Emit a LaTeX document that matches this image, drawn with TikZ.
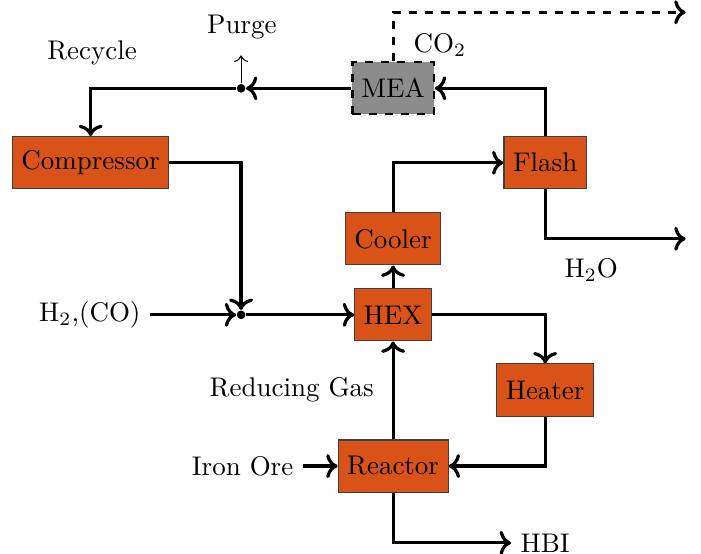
\documentclass[tikz,border=0pt]{standalone}
\usepackage{amsmath}
\usetikzlibrary{calc,arrows.meta}
\definecolor{unitorange}{HTML}{D95319}

\begin{document}
\begin{tikzpicture}[
    unit/.style={draw=black!75, fill=unitorange, minimum height=0.68cm, inner sep=3.33pt},
    flow/.style={very thick, ->},
    junction/.style={circle, fill=black, inner sep=0pt, minimum size=3.2pt}
]
    \useasboundingbox (0,0) rectangle (9.13,-7.21);

    % process units
    \node[unit] (comp) at (1.18,-2.12) {Compressor};
    \node[unit, fill=gray!90, draw=black, thick, dashed] (mea) at (5.12,-1.15) {MEA};
    \node[unit] (flash) at (7.10,-2.12) {Flash};
    \node[unit] (cooler) at (5.12,-3.11) {Cooler};
    \node[unit] (hex) at (5.12,-4.10) {HEX};
    \node[unit] (heater) at (7.10,-5.08) {Heater};
    \node[unit] (reactor) at (5.12,-6.07) {Reactor};

    % junctions and stream ends
    \node[junction] (mix) at (3.14,-4.10) {};
    \node[junction] (split) at (3.14,-1.15) {};
    \coordinate (purgeend) at (3.14,-0.72);
    \coordinate (co2end) at (8.93,-0.16);
    \coordinate (waterend) at (8.93,-3.11);

    % labels
    \node (purge) at (3.15,-0.35) {Purge};
    \node (recycle) at (1.20,-0.69) {Recycle};
    \node (co2) at (5.73,-0.59) {CO$_2$};
    \node (water) at (7.70,-3.52) {H$_2$O};
    \node (feed) at (1.17,-4.10) {H$_2$,(CO)};
    \node (redgas) at (3.80,-5.07) {Reducing Gas};
    \node (ore) at (3.16,-6.07) {Iron Ore};
    \node (hbi) at (7.10,-7.07) {HBI};

    % streams
    \draw[flow] (flash.north) |- (mea.east);
    \draw[flow] (mea.west) -- (split);
    \draw[->] (split) -- (purgeend);
    \draw[flow] (split) -| (comp.north);
    \draw[flow] (comp.east) -| (mix);
    \draw[flow] (feed.east) -- (mix);
    \draw[flow] (mix) -- (hex.west);
    \draw[flow] (hex.north) -- (cooler.south);
    \draw[flow] (cooler.north) |- (flash.west);
    \draw[flow] (flash.south) |- (waterend);
    \draw[flow, dashed] (mea.north) |- (co2end);
    \draw[flow] (hex.east) -| (heater.north);
    \draw[flow] (heater.south) |- (reactor.east);
    \draw[flow] (reactor.north) -- (hex.south);
    \draw[flow] (ore.east) -- (reactor.west);
    \draw[flow] (reactor.south) |- (hbi.west);
\end{tikzpicture}
\end{document}
